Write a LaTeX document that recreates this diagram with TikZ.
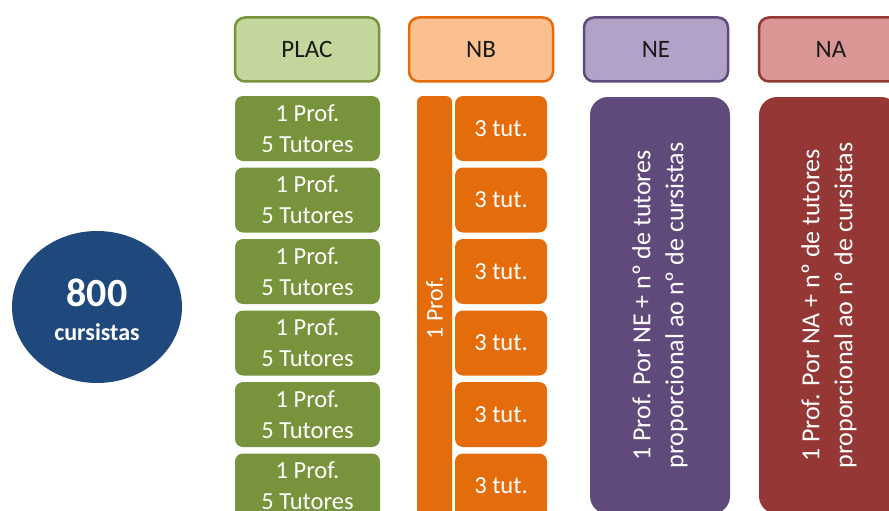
\documentclass[tikz,border=0pt]{standalone}
\usepackage{fontspec}
\setmainfont{Carlito}
\usetikzlibrary{shapes.geometric}
\definecolor{navy}{HTML}{1F497D}
\definecolor{olive}{HTML}{77933C}
\definecolor{oliveL}{HTML}{C3D69B}
\definecolor{orng}{HTML}{E46C0A}
\definecolor{orngL}{HTML}{FAC090}
\definecolor{plum}{HTML}{604A7B}
\definecolor{plumL}{HTML}{B3A2C7}
\definecolor{brick}{HTML}{953735}
\definecolor{brickL}{HTML}{D99694}
\tikzset{
  header/.style={draw=#1, line width=2.5pt, rounded corners=10pt,
    minimum width=144pt, minimum height=64pt, inner sep=0pt,
    text=black!90, font=\fontsize{25}{28}\selectfont},
  cell/.style={fill=#1, draw=none, rounded corners=8pt, inner sep=0pt,
    text=white, align=center, font=\fontsize{24.5}{31}\selectfont},
  column/.style={fill=#1, draw=none, rounded corners=18pt, inner sep=0pt,
    minimum width=417pt, minimum height=140pt, rotate=90,
    text=white, align=center, font=\fontsize{26}{33}\selectfont},
}
\begin{document}
\begin{tikzpicture}[x=1pt,y=-1pt]
\useasboundingbox (0,0) rectangle (889,511);
\clip (0,0) rectangle (889,511);

% total of participants
\node[ellipse, fill=navy, minimum width=170pt, minimum height=152pt, inner sep=0pt] (total) at (97,307) {};
\node[text=white, font=\bfseries\fontsize{40}{44}\selectfont] (totaln) at (97,293) {800};
\node[text=white, font=\bfseries\fontsize{24}{28}\selectfont] (totall) at (97,332) {cursistas};

% column headers
\node[header=olive, fill=oliveL] (plac) at (307,49.5) {PLAC};
\node[header=orng,  fill=orngL]  (nb)   at (481,49.5) {NB};
\node[header=plum,  fill=plumL]  (ne)   at (656,49.5) {NE};
\node[header=brick, fill=brickL] (na)   at (831,49.5) {NA};

% PLAC and NB rows
\foreach \i in {1,...,6}{
  \pgfmathsetmacro{\yy}{128.5+71.5*(\i-1)}
  \node[cell=olive, minimum width=145pt, minimum height=65pt] (g\i) at (307.5,\yy)
    {1 Prof.\\5 Tutores};
  \node[cell=orng, minimum width=92pt, minimum height=65pt] (t\i) at (501,\yy)
    {3 tut.};
}

% NB coordinator bar
\node[cell=orng, rounded corners=6pt, minimum width=424pt, minimum height=35pt,
      rotate=90] (nbprof) at (434.5,308) {};
\node[text=white, rotate=90, font=\fontsize{24}{28}\selectfont] (nbprofl) at (434.5,308) {1 Prof.};

% NE and NA columns
\node[column=plum]  (nebody) at (660,305.5)
  {1 Prof. Por NE + nº de tutores\\proporcional ao nº de cursistas};
\node[column=brick] (nabody) at (829,305.5)
  {1 Prof. Por NA + nº de tutores\\proporcional ao nº de cursistas};
\end{tikzpicture}
\end{document}
